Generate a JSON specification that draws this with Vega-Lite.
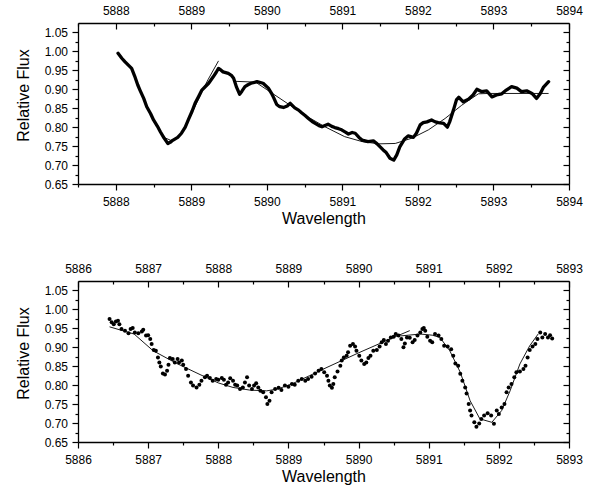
{
  "$schema": "https://vega.github.io/schema/vega-lite/v6.json",
  "autosize": {"type": "none"},
  "padding": {"left": 78, "top": 23, "right": 517, "bottom": 468},
  "bounds": "flush",
  "spacing": 97,
  "config": {
    "view": {"stroke": null},
    "font": "Liberation Sans",
    "axis": {
      "grid": false,
      "labelFont": "Liberation Sans",
      "labelFontSize": 12,
      "labelColor": "#000000",
      "domainColor": "#000000",
      "domainWidth": 1.3,
      "tickColor": "#000000",
      "tickWidth": 1.2,
      "titleFont": "Liberation Sans",
      "titleFontSize": 16,
      "titleFontWeight": "normal",
      "titleColor": "#000000",
      "labelFlush": false,
      "labelOverlap": false
    }
  },
  "datasets": {
    "spec1": [
      {"w": 5888.03, "f": 0.995}, {"w": 5888.08, "f": 0.982}, {"w": 5888.12, "f": 0.973}, {"w": 5888.17, "f": 0.963},
      {"w": 5888.21, "f": 0.955}, {"w": 5888.25, "f": 0.935}, {"w": 5888.29, "f": 0.912}, {"w": 5888.32, "f": 0.898},
      {"w": 5888.37, "f": 0.876}, {"w": 5888.41, "f": 0.854}, {"w": 5888.46, "f": 0.836}, {"w": 5888.50, "f": 0.819},
      {"w": 5888.55, "f": 0.803}, {"w": 5888.59, "f": 0.788}, {"w": 5888.64, "f": 0.771}, {"w": 5888.69, "f": 0.757},
      {"w": 5888.72, "f": 0.760}, {"w": 5888.76, "f": 0.766}, {"w": 5888.82, "f": 0.773}, {"w": 5888.87, "f": 0.784},
      {"w": 5888.92, "f": 0.800}, {"w": 5888.96, "f": 0.819}, {"w": 5889.01, "f": 0.842}, {"w": 5889.05, "f": 0.863},
      {"w": 5889.10, "f": 0.882}, {"w": 5889.14, "f": 0.898}, {"w": 5889.19, "f": 0.908}, {"w": 5889.23, "f": 0.916},
      {"w": 5889.29, "f": 0.933}, {"w": 5889.33, "f": 0.945}, {"w": 5889.36, "f": 0.955}, {"w": 5889.39, "f": 0.951},
      {"w": 5889.42, "f": 0.946}, {"w": 5889.49, "f": 0.942}, {"w": 5889.53, "f": 0.937}, {"w": 5889.56, "f": 0.929},
      {"w": 5889.60, "f": 0.905}, {"w": 5889.64, "f": 0.887}, {"w": 5889.67, "f": 0.895}, {"w": 5889.71, "f": 0.907},
      {"w": 5889.75, "f": 0.912}, {"w": 5889.79, "f": 0.916}, {"w": 5889.87, "f": 0.920}, {"w": 5889.95, "f": 0.916},
      {"w": 5890.02, "f": 0.903}, {"w": 5890.06, "f": 0.890}, {"w": 5890.09, "f": 0.878}, {"w": 5890.13, "f": 0.860},
      {"w": 5890.17, "f": 0.854}, {"w": 5890.22, "f": 0.852}, {"w": 5890.27, "f": 0.856}, {"w": 5890.31, "f": 0.863},
      {"w": 5890.37, "f": 0.851}, {"w": 5890.42, "f": 0.845}, {"w": 5890.46, "f": 0.838}, {"w": 5890.51, "f": 0.830},
      {"w": 5890.55, "f": 0.823}, {"w": 5890.60, "f": 0.815}, {"w": 5890.64, "f": 0.810}, {"w": 5890.69, "f": 0.804},
      {"w": 5890.73, "f": 0.801}, {"w": 5890.81, "f": 0.808}, {"w": 5890.86, "f": 0.802}, {"w": 5890.90, "f": 0.799},
      {"w": 5890.95, "f": 0.796}, {"w": 5890.99, "f": 0.793}, {"w": 5891.04, "f": 0.787}, {"w": 5891.08, "f": 0.782},
      {"w": 5891.13, "f": 0.786}, {"w": 5891.17, "f": 0.784}, {"w": 5891.22, "f": 0.773}, {"w": 5891.26, "f": 0.766},
      {"w": 5891.34, "f": 0.762}, {"w": 5891.41, "f": 0.764}, {"w": 5891.46, "f": 0.756}, {"w": 5891.50, "f": 0.748},
      {"w": 5891.54, "f": 0.740}, {"w": 5891.58, "f": 0.733}, {"w": 5891.63, "f": 0.718}, {"w": 5891.68, "f": 0.713},
      {"w": 5891.72, "f": 0.727}, {"w": 5891.76, "f": 0.748}, {"w": 5891.82, "f": 0.768}, {"w": 5891.87, "f": 0.777},
      {"w": 5891.94, "f": 0.773}, {"w": 5891.98, "f": 0.784}, {"w": 5892.03, "f": 0.806}, {"w": 5892.07, "f": 0.812},
      {"w": 5892.12, "f": 0.814}, {"w": 5892.18, "f": 0.819}, {"w": 5892.23, "f": 0.814}, {"w": 5892.27, "f": 0.812},
      {"w": 5892.34, "f": 0.810}, {"w": 5892.39, "f": 0.800}, {"w": 5892.42, "f": 0.814}, {"w": 5892.47, "f": 0.845},
      {"w": 5892.51, "f": 0.872}, {"w": 5892.54, "f": 0.879}, {"w": 5892.60, "f": 0.867}, {"w": 5892.67, "f": 0.874},
      {"w": 5892.73, "f": 0.885}, {"w": 5892.78, "f": 0.900}, {"w": 5892.84, "f": 0.894}, {"w": 5892.91, "f": 0.896},
      {"w": 5892.98, "f": 0.880}, {"w": 5893.04, "f": 0.885}, {"w": 5893.11, "f": 0.888}, {"w": 5893.17, "f": 0.898},
      {"w": 5893.24, "f": 0.907}, {"w": 5893.31, "f": 0.903}, {"w": 5893.37, "f": 0.894}, {"w": 5893.44, "f": 0.896},
      {"w": 5893.51, "f": 0.889}, {"w": 5893.57, "f": 0.876}, {"w": 5893.62, "f": 0.889}, {"w": 5893.66, "f": 0.905},
      {"w": 5893.73, "f": 0.920}
    ],
    "fit1": [
      {"seg": "a", "w": 5888.25, "f": 0.930}, {"seg": "a", "w": 5888.35, "f": 0.885}, {"seg": "a", "w": 5888.45, "f": 0.840},
      {"seg": "a", "w": 5888.55, "f": 0.800}, {"seg": "a", "w": 5888.65, "f": 0.772}, {"seg": "a", "w": 5888.73, "f": 0.765},
      {"seg": "a", "w": 5888.82, "f": 0.772}, {"seg": "a", "w": 5888.92, "f": 0.800}, {"seg": "a", "w": 5889.02, "f": 0.842},
      {"seg": "a", "w": 5889.12, "f": 0.885}, {"seg": "a", "w": 5889.22, "f": 0.925}, {"seg": "a", "w": 5889.36, "f": 0.975},
      {"seg": "b", "w": 5889.58, "f": 0.921}, {"seg": "b", "w": 5889.85, "f": 0.919}, {"seg": "b", "w": 5890.00, "f": 0.899},
      {"seg": "b", "w": 5890.24, "f": 0.867}, {"seg": "b", "w": 5890.50, "f": 0.832}, {"seg": "b", "w": 5890.77, "f": 0.801},
      {"seg": "b", "w": 5891.03, "f": 0.775}, {"seg": "b", "w": 5891.26, "f": 0.762}, {"seg": "b", "w": 5891.48, "f": 0.756},
      {"seg": "b", "w": 5891.70, "f": 0.757}, {"seg": "b", "w": 5891.92, "f": 0.771}, {"seg": "b", "w": 5892.14, "f": 0.793},
      {"seg": "b", "w": 5892.36, "f": 0.823}, {"seg": "b", "w": 5892.58, "f": 0.858}, {"seg": "b", "w": 5892.80, "f": 0.888},
      {"seg": "b", "w": 5892.93, "f": 0.889}, {"seg": "b", "w": 5893.73, "f": 0.889}
    ],
    "spec2": [
      {"w": 5886.45, "f": 0.975}, {"w": 5886.48, "f": 0.966}, {"w": 5886.51, "f": 0.961}, {"w": 5886.54, "f": 0.968},
      {"w": 5886.57, "f": 0.970}, {"w": 5886.59, "f": 0.961}, {"w": 5886.62, "f": 0.948}, {"w": 5886.67, "f": 0.944},
      {"w": 5886.72, "f": 0.937}, {"w": 5886.75, "f": 0.948}, {"w": 5886.78, "f": 0.951}, {"w": 5886.81, "f": 0.939},
      {"w": 5886.86, "f": 0.937}, {"w": 5886.91, "f": 0.942}, {"w": 5886.93, "f": 0.946}, {"w": 5886.97, "f": 0.931},
      {"w": 5887.00, "f": 0.932}, {"w": 5887.03, "f": 0.922}, {"w": 5887.05, "f": 0.909}, {"w": 5887.08, "f": 0.893},
      {"w": 5887.11, "f": 0.891}, {"w": 5887.14, "f": 0.873}, {"w": 5887.16, "f": 0.860}, {"w": 5887.18, "f": 0.849},
      {"w": 5887.21, "f": 0.831}, {"w": 5887.24, "f": 0.828}, {"w": 5887.27, "f": 0.838}, {"w": 5887.29, "f": 0.854},
      {"w": 5887.31, "f": 0.872}, {"w": 5887.35, "f": 0.869}, {"w": 5887.38, "f": 0.860}, {"w": 5887.42, "f": 0.869},
      {"w": 5887.44, "f": 0.860}, {"w": 5887.48, "f": 0.865}, {"w": 5887.50, "f": 0.854}, {"w": 5887.54, "f": 0.843},
      {"w": 5887.57, "f": 0.825}, {"w": 5887.61, "f": 0.807}, {"w": 5887.64, "f": 0.799}, {"w": 5887.69, "f": 0.794},
      {"w": 5887.73, "f": 0.801}, {"w": 5887.76, "f": 0.812}, {"w": 5887.81, "f": 0.821}, {"w": 5887.84, "f": 0.825},
      {"w": 5887.88, "f": 0.819}, {"w": 5887.92, "f": 0.812}, {"w": 5887.97, "f": 0.816}, {"w": 5888.00, "f": 0.814},
      {"w": 5888.05, "f": 0.819}, {"w": 5888.08, "f": 0.814}, {"w": 5888.11, "f": 0.801}, {"w": 5888.14, "f": 0.807},
      {"w": 5888.17, "f": 0.818}, {"w": 5888.21, "f": 0.812}, {"w": 5888.24, "f": 0.801}, {"w": 5888.27, "f": 0.799},
      {"w": 5888.31, "f": 0.790}, {"w": 5888.35, "f": 0.794}, {"w": 5888.38, "f": 0.807}, {"w": 5888.41, "f": 0.821},
      {"w": 5888.44, "f": 0.799}, {"w": 5888.48, "f": 0.790}, {"w": 5888.51, "f": 0.799}, {"w": 5888.54, "f": 0.805},
      {"w": 5888.57, "f": 0.794}, {"w": 5888.60, "f": 0.785}, {"w": 5888.64, "f": 0.781}, {"w": 5888.68, "f": 0.768},
      {"w": 5888.70, "f": 0.750}, {"w": 5888.73, "f": 0.759}, {"w": 5888.76, "f": 0.781}, {"w": 5888.81, "f": 0.790},
      {"w": 5888.86, "f": 0.793}, {"w": 5888.90, "f": 0.787}, {"w": 5888.95, "f": 0.799}, {"w": 5889.00, "f": 0.796},
      {"w": 5889.05, "f": 0.803}, {"w": 5889.09, "f": 0.801}, {"w": 5889.14, "f": 0.812}, {"w": 5889.19, "f": 0.816},
      {"w": 5889.24, "f": 0.812}, {"w": 5889.28, "f": 0.816}, {"w": 5889.33, "f": 0.822}, {"w": 5889.38, "f": 0.831},
      {"w": 5889.43, "f": 0.838}, {"w": 5889.47, "f": 0.843}, {"w": 5889.51, "f": 0.834}, {"w": 5889.55, "f": 0.825},
      {"w": 5889.57, "f": 0.812}, {"w": 5889.59, "f": 0.799}, {"w": 5889.62, "f": 0.793}, {"w": 5889.64, "f": 0.803},
      {"w": 5889.66, "f": 0.821}, {"w": 5889.70, "f": 0.836}, {"w": 5889.74, "f": 0.851}, {"w": 5889.76, "f": 0.865},
      {"w": 5889.79, "f": 0.873}, {"w": 5889.83, "f": 0.878}, {"w": 5889.85, "f": 0.887}, {"w": 5889.88, "f": 0.904},
      {"w": 5889.92, "f": 0.909}, {"w": 5889.95, "f": 0.902}, {"w": 5889.97, "f": 0.891}, {"w": 5890.01, "f": 0.878},
      {"w": 5890.04, "f": 0.865}, {"w": 5890.08, "f": 0.856}, {"w": 5890.11, "f": 0.860}, {"w": 5890.14, "f": 0.872},
      {"w": 5890.17, "f": 0.878}, {"w": 5890.21, "f": 0.891}, {"w": 5890.26, "f": 0.893}, {"w": 5890.30, "f": 0.902},
      {"w": 5890.33, "f": 0.913}, {"w": 5890.36, "f": 0.919}, {"w": 5890.39, "f": 0.909}, {"w": 5890.42, "f": 0.917},
      {"w": 5890.46, "f": 0.926}, {"w": 5890.50, "f": 0.928}, {"w": 5890.53, "f": 0.935}, {"w": 5890.57, "f": 0.931},
      {"w": 5890.61, "f": 0.922}, {"w": 5890.64, "f": 0.900}, {"w": 5890.66, "f": 0.910}, {"w": 5890.69, "f": 0.926},
      {"w": 5890.73, "f": 0.925}, {"w": 5890.77, "f": 0.913}, {"w": 5890.80, "f": 0.919}, {"w": 5890.84, "f": 0.931},
      {"w": 5890.88, "f": 0.939}, {"w": 5890.91, "f": 0.948}, {"w": 5890.93, "f": 0.951}, {"w": 5890.95, "f": 0.944},
      {"w": 5890.98, "f": 0.928}, {"w": 5891.02, "f": 0.917}, {"w": 5891.05, "f": 0.913}, {"w": 5891.09, "f": 0.935},
      {"w": 5891.14, "f": 0.931}, {"w": 5891.18, "f": 0.922}, {"w": 5891.22, "f": 0.904}, {"w": 5891.27, "f": 0.902},
      {"w": 5891.32, "f": 0.895}, {"w": 5891.35, "f": 0.878}, {"w": 5891.38, "f": 0.857}, {"w": 5891.42, "f": 0.851},
      {"w": 5891.45, "f": 0.830}, {"w": 5891.48, "f": 0.812}, {"w": 5891.52, "f": 0.794}, {"w": 5891.54, "f": 0.778},
      {"w": 5891.57, "f": 0.750}, {"w": 5891.59, "f": 0.733}, {"w": 5891.61, "f": 0.720}, {"w": 5891.65, "f": 0.702},
      {"w": 5891.68, "f": 0.690}, {"w": 5891.72, "f": 0.699}, {"w": 5891.75, "f": 0.711}, {"w": 5891.79, "f": 0.720},
      {"w": 5891.84, "f": 0.726}, {"w": 5891.89, "f": 0.720}, {"w": 5891.93, "f": 0.698}, {"w": 5891.97, "f": 0.733},
      {"w": 5892.00, "f": 0.724}, {"w": 5892.04, "f": 0.741}, {"w": 5892.08, "f": 0.750}, {"w": 5892.11, "f": 0.781},
      {"w": 5892.14, "f": 0.794}, {"w": 5892.18, "f": 0.803}, {"w": 5892.22, "f": 0.821}, {"w": 5892.25, "f": 0.834},
      {"w": 5892.30, "f": 0.836}, {"w": 5892.35, "f": 0.843}, {"w": 5892.38, "f": 0.851}, {"w": 5892.41, "f": 0.873},
      {"w": 5892.44, "f": 0.893}, {"w": 5892.48, "f": 0.902}, {"w": 5892.52, "f": 0.909}, {"w": 5892.55, "f": 0.922},
      {"w": 5892.59, "f": 0.939}, {"w": 5892.62, "f": 0.926}, {"w": 5892.66, "f": 0.935}, {"w": 5892.70, "f": 0.926},
      {"w": 5892.73, "f": 0.932}, {"w": 5892.76, "f": 0.923}
    ],
    "fit2": [
      {"seg": "a", "w": 5886.45, "f": 0.954}, {"seg": "a", "w": 5886.80, "f": 0.935}, {"seg": "a", "w": 5887.07, "f": 0.891},
      {"seg": "a", "w": 5887.40, "f": 0.858}, {"seg": "a", "w": 5887.74, "f": 0.828}, {"seg": "a", "w": 5888.00, "f": 0.806},
      {"seg": "a", "w": 5888.21, "f": 0.794}, {"seg": "a", "w": 5888.45, "f": 0.787}, {"seg": "a", "w": 5888.69, "f": 0.785},
      {"seg": "a", "w": 5888.85, "f": 0.790}, {"seg": "a", "w": 5889.07, "f": 0.805}, {"seg": "a", "w": 5889.30, "f": 0.825},
      {"seg": "a", "w": 5889.55, "f": 0.847}, {"seg": "a", "w": 5890.02, "f": 0.887}, {"seg": "a", "w": 5890.50, "f": 0.926},
      {"seg": "a", "w": 5890.73, "f": 0.944},
      {"seg": "b", "w": 5890.60, "f": 0.930}, {"seg": "b", "w": 5890.88, "f": 0.935}, {"seg": "b", "w": 5891.05, "f": 0.932},
      {"seg": "b", "w": 5891.16, "f": 0.926}, {"seg": "b", "w": 5891.30, "f": 0.891}, {"seg": "b", "w": 5891.45, "f": 0.834},
      {"seg": "b", "w": 5891.59, "f": 0.759}, {"seg": "b", "w": 5891.73, "f": 0.711}, {"seg": "b", "w": 5891.90, "f": 0.702},
      {"seg": "b", "w": 5892.04, "f": 0.733}, {"seg": "b", "w": 5892.16, "f": 0.785}, {"seg": "b", "w": 5892.30, "f": 0.856},
      {"seg": "b", "w": 5892.44, "f": 0.904}, {"seg": "b", "w": 5892.56, "f": 0.935}
    ]
  },
  "vconcat": [
    {
      "width": 491,
      "height": 161,
      "layer": [
        {
          "data": {"name": "spec1"},
          "mark": {"type": "line", "color": "#000000", "strokeWidth": 3.3, "strokeCap": "round", "strokeJoin": "round"},
          "encoding": {
            "x": {"field": "w", "type": "quantitative", "scale": {"domain": [5887.5, 5894], "nice": false, "zero": false},
              "axis": {"orient": "bottom", "title": "Wavelength", "values": [5887.5, 5888, 5888.5, 5889, 5889.5, 5890, 5890.5, 5891, 5891.5, 5892, 5892.5, 5893, 5893.5, 5894],
                "format": ".0f", "labelExpr": "abs(datum.value-round(datum.value))<0.001 ? datum.label : ''",
                "tickSize": {"condition": {"test": "abs(datum.value-round(datum.value))<0.001", "value": 6}, "value": 3},
                "labelPadding": 6, "titleBaseline": "alphabetic", "titleY": 39}},
            "y": {"field": "f", "type": "quantitative", "scale": {"domain": [0.65, 1.075], "nice": false, "zero": false},
              "axis": {"orient": "left", "title": "Relative Flux", "values": [0.65, 0.675, 0.7, 0.725, 0.75, 0.775, 0.8, 0.825, 0.85, 0.875, 0.9, 0.925, 0.95, 0.975, 1.0, 1.025, 1.05],
                "format": ".2f", "labelExpr": "abs(datum.value*20-round(datum.value*20))<0.001 ? datum.label : ''",
                "tickSize": {"condition": {"test": "abs(datum.value*20-round(datum.value*20))<0.001", "value": 6}, "value": 3},
                "labelPadding": 4.5, "titleX": -50, "titleY": 72, "titleBaseline": "alphabetic"}}
          }
        },
        {
          "data": {"name": "fit1"},
          "mark": {"type": "line", "color": "#000000", "strokeWidth": 0.9},
          "encoding": {
            "detail": {"field": "seg"},
            "x": {"field": "w", "type": "quantitative", "scale": {"domain": [5887.5, 5894], "nice": false, "zero": false},
              "axis": {"orient": "top", "title": null, "values": [5887.5, 5888, 5888.5, 5889, 5889.5, 5890, 5890.5, 5891, 5891.5, 5892, 5892.5, 5893, 5893.5, 5894],
                "format": ".0f", "labelExpr": "abs(datum.value-round(datum.value))<0.001 ? datum.label : ''",
                "tickSize": {"condition": {"test": "abs(datum.value-round(datum.value))<0.001", "value": -6}, "value": -3},
                "labelPadding": 12}},
            "y": {"field": "f", "type": "quantitative", "scale": {"domain": [0.65, 1.075], "nice": false, "zero": false},
              "axis": {"orient": "right", "title": null, "labels": false, "values": [0.65, 0.675, 0.7, 0.725, 0.75, 0.775, 0.8, 0.825, 0.85, 0.875, 0.9, 0.925, 0.95, 0.975, 1.0, 1.025, 1.05],
                "tickSize": {"condition": {"test": "abs(datum.value*20-round(datum.value*20))<0.001", "value": -6}, "value": -3}}}
          }
        }
      ]
    },
    {
      "width": 491,
      "height": 161,
      "layer": [
        {
          "data": {"name": "spec2"},
          "mark": {"type": "point", "filled": true, "color": "#000000", "opacity": 1, "size": 16},
          "encoding": {
            "x": {"field": "w", "type": "quantitative", "scale": {"domain": [5886, 5893], "nice": false, "zero": false},
              "axis": {"orient": "bottom", "title": "Wavelength", "values": [5886, 5886.5, 5887, 5887.5, 5888, 5888.5, 5889, 5889.5, 5890, 5890.5, 5891, 5891.5, 5892, 5892.5, 5893],
                "format": ".0f", "labelExpr": "abs(datum.value-round(datum.value))<0.001 ? datum.label : ''",
                "tickSize": {"condition": {"test": "abs(datum.value-round(datum.value))<0.001", "value": 6}, "value": 3},
                "labelPadding": 6, "titleBaseline": "alphabetic", "titleY": 39}},
            "y": {"field": "f", "type": "quantitative", "scale": {"domain": [0.65, 1.075], "nice": false, "zero": false},
              "axis": {"orient": "left", "title": "Relative Flux", "values": [0.65, 0.675, 0.7, 0.725, 0.75, 0.775, 0.8, 0.825, 0.85, 0.875, 0.9, 0.925, 0.95, 0.975, 1.0, 1.025, 1.05],
                "format": ".2f", "labelExpr": "abs(datum.value*20-round(datum.value*20))<0.001 ? datum.label : ''",
                "tickSize": {"condition": {"test": "abs(datum.value*20-round(datum.value*20))<0.001", "value": 6}, "value": 3},
                "labelPadding": 4.5, "titleX": -50, "titleY": 72, "titleBaseline": "alphabetic"}}
          }
        },
        {
          "data": {"name": "fit2"},
          "mark": {"type": "line", "color": "#000000", "strokeWidth": 0.9},
          "encoding": {
            "detail": {"field": "seg"},
            "x": {"field": "w", "type": "quantitative", "scale": {"domain": [5886, 5893], "nice": false, "zero": false},
              "axis": {"orient": "top", "title": null, "values": [5886, 5886.5, 5887, 5887.5, 5888, 5888.5, 5889, 5889.5, 5890, 5890.5, 5891, 5891.5, 5892, 5892.5, 5893],
                "format": ".0f", "labelExpr": "abs(datum.value-round(datum.value))<0.001 ? datum.label : ''",
                "tickSize": {"condition": {"test": "abs(datum.value-round(datum.value))<0.001", "value": -6}, "value": -3},
                "labelPadding": 12}},
            "y": {"field": "f", "type": "quantitative", "scale": {"domain": [0.65, 1.075], "nice": false, "zero": false},
              "axis": {"orient": "right", "title": null, "labels": false, "values": [0.65, 0.675, 0.7, 0.725, 0.75, 0.775, 0.8, 0.825, 0.85, 0.875, 0.9, 0.925, 0.95, 0.975, 1.0, 1.025, 1.05],
                "tickSize": {"condition": {"test": "abs(datum.value*20-round(datum.value*20))<0.001", "value": -6}, "value": -3}}}
          }
        }
      ]
    }
  ]
}
